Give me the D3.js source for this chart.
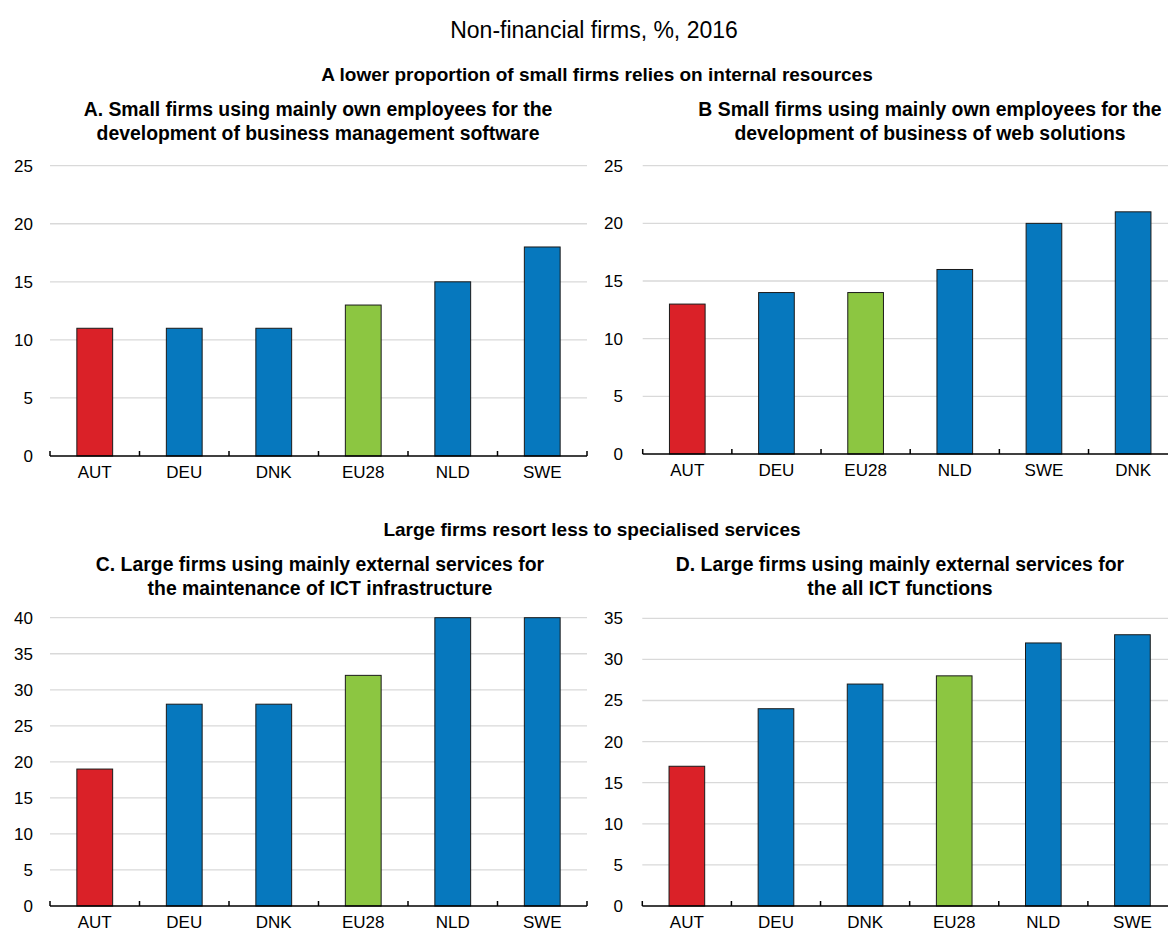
<!DOCTYPE html>
<html>
<head>
<meta charset="utf-8">
<script src="https://cdn.jsdelivr.net/npm/d3@7"></script>
<style>
  body { margin: 0; background: #fff; }
  svg { display: block; }
  text { font-family: "Liberation Sans", Arial, sans-serif; fill: #000; }
</style>
</head>
<body>
<svg id="chart" width="1168" height="931"></svg>
<script>
// ---- Data ----
const chartTitle = "Non-financial firms, %, 2016";
const sectionTop = "A lower proportion of small firms relies on internal resources";
const sectionBottom = "Large firms resort less to specialised services";

const titleA = ["A. Small firms using mainly own employees for the", "development of business management software"];
const catsA = ["AUT", "DEU", "DNK", "EU28", "NLD", "SWE"];
const valsA = [11, 11, 11, 13, 15, 18];
const ticksA = [0, 5, 10, 15, 20, 25];

const titleB = ["B Small firms using mainly own employees for the", "development of business of web solutions"];
const catsB = ["AUT", "DEU", "EU28", "NLD", "SWE", "DNK"];
const valsB = [13, 14, 14, 16, 20, 21];
const ticksB = [0, 5, 10, 15, 20, 25];

const titleC = ["C. Large firms using mainly external services for", "the maintenance of ICT infrastructure"];
const catsC = ["AUT", "DEU", "DNK", "EU28", "NLD", "SWE"];
const valsC = [19, 28, 28, 32, 40, 40];
const ticksC = [0, 5, 10, 15, 20, 25, 30, 35, 40];

const titleD = ["D. Large firms using mainly external services for", "the all ICT functions"];
const catsD = ["AUT", "DEU", "DNK", "EU28", "NLD", "SWE"];
const valsD = [17, 24, 27, 28, 32, 33];
const ticksD = [0, 5, 10, 15, 20, 25, 30, 35];

// ---- Styles ----
const colorOf = c => c === "AUT" ? "#DA2128" : (c === "EU28" ? "#8CC641" : "#0678BE");
const FONT = '"Liberation Sans", Arial, sans-serif';

const svg = d3.select("#chart");

svg.append("text").attr("x", 594).attr("y", 38).attr("text-anchor", "middle")
  .style("font-size", "23px").text(chartTitle);
svg.append("text").attr("x", 597).attr("y", 81).attr("text-anchor", "middle")
  .style("font-size", "19px").style("font-weight", "bold").text(sectionTop);
svg.append("text").attr("x", 592).attr("y", 536).attr("text-anchor", "middle")
  .style("font-size", "19px").style("font-weight", "bold").text(sectionBottom);

function panel(cfg) {
  const { cats, vals, ticks, title, x0, x1, yTop, yBase, labelX, titleX, titleY } = cfg;
  const g = svg.append("g");
  const x = d3.scaleBand().domain(cats).range([x0, x1]).padding(0);
  const y = d3.scaleLinear().domain([0, d3.max(ticks)]).range([yBase, yTop]);

  // title
  title.forEach((t, i) => {
    g.append("text").attr("x", titleX).attr("y", titleY + i * 23.5).attr("text-anchor", "middle")
      .style("font-size", "19.4px").style("font-weight", "bold").text(t);
  });

  // gridlines
  g.selectAll(".grid").data(ticks.filter(t => t > 0)).enter().append("line")
    .attr("x1", x0).attr("x2", x1)
    .attr("y1", d => y(d)).attr("y2", d => y(d))
    .attr("stroke", "#d9d9d9").attr("stroke-width", 1.3);

  // y labels
  const yAxis = d3.axisLeft(y).tickValues(ticks).tickSize(0).tickPadding(0);
  const ya = g.append("g").attr("transform", `translate(${labelX},0)`).call(yAxis);
  ya.select(".domain").remove();
  ya.selectAll("text").style("font-size", "17px").style("font-family", FONT).attr("fill", "#000");

  // bars
  const bw = x.bandwidth() * 0.4;
  g.selectAll(".bar").data(cats.map((c, i) => ({ c, v: vals[i] }))).enter().append("rect")
    .attr("x", d => x(d.c) + (x.bandwidth() - bw) / 2)
    .attr("width", bw)
    .attr("y", d => y(d.v))
    .attr("height", d => y(0) - y(d.v))
    .attr("fill", d => colorOf(d.c))
    .attr("stroke", "#1a1a1a").attr("stroke-width", 1);

  // x axis labels
  const xAxis = d3.axisBottom(x).tickSize(0).tickPadding(10);
  const xa = g.append("g").attr("transform", `translate(0,${yBase})`).call(xAxis);
  xa.select(".domain").remove();
  xa.selectAll("text").style("font-size", "17px").style("font-family", FONT).attr("fill", "#000");

  // baseline + boundary ticks
  g.append("line").attr("x1", x0).attr("x2", x1).attr("y1", yBase).attr("y2", yBase)
    .attr("stroke", "#000").attr("stroke-width", 1.5);
  const bounds = cats.map(c => x(c)).concat([x1]);
  g.selectAll(".btick").data(bounds).enter().append("line")
    .attr("x1", d => d).attr("x2", d => d)
    .attr("y1", yBase).attr("y2", yBase - 5)
    .attr("stroke", "#000").attr("stroke-width", 1.5);
}

panel({ cats: catsA, vals: valsA, ticks: ticksA, title: titleA, x0: 50, x1: 587, yTop: 165.7, yBase: 456, labelX: 33, titleX: 318, titleY: 116 });
panel({ cats: catsB, vals: valsB, ticks: ticksB, title: titleB, x0: 642.7, x1: 1177.7, yTop: 165.7, yBase: 454, labelX: 623, titleX: 930, titleY: 116 });
panel({ cats: catsC, vals: valsC, ticks: ticksC, title: titleC, x0: 50, x1: 587, yTop: 617.7, yBase: 906, labelX: 33, titleX: 320, titleY: 571 });
panel({ cats: catsD, vals: valsD, ticks: ticksD, title: titleD, x0: 642.3, x1: 1177, yTop: 618.3, yBase: 906, labelX: 623, titleX: 900, titleY: 571 });
</script>
</body>
</html>
